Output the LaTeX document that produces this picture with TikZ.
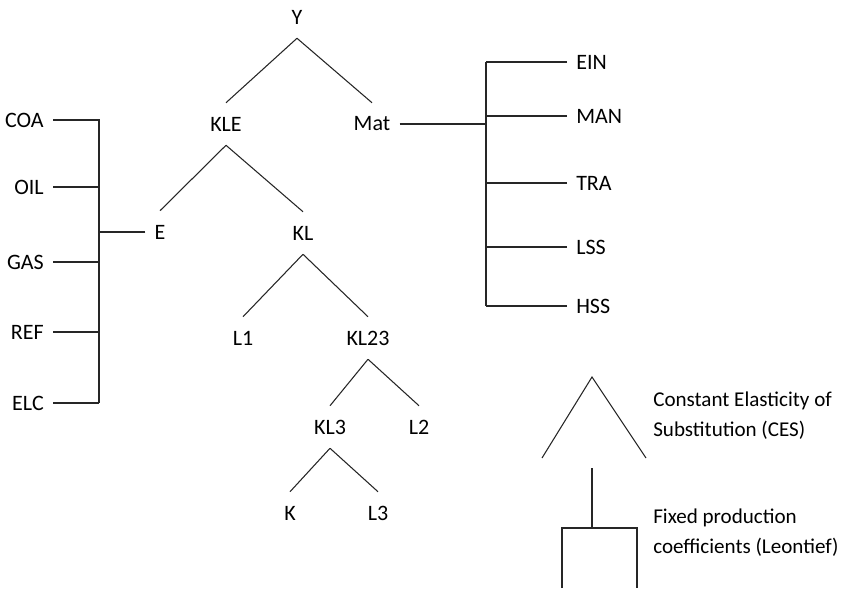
\documentclass[tikz,border=0pt]{standalone}
\usepackage{fontspec}
\setmainfont{Carlito}
\begin{document}
\begin{tikzpicture}[x=0.75pt,y=-0.75pt,
  lbl/.style={font=\fontsize{16.5}{20}\selectfont, inner xsep=6.75pt, inner ysep=0pt},
  tnode/.style={lbl, minimum height=31.5pt},
  legtext/.style={font=\fontsize{15.8}{19}\selectfont, inner sep=0pt, anchor=base west},
  conn/.style={draw=black!85, line width=0.8pt}]
\useasboundingbox (0,0) rectangle (843,590);

% tree nodes
\node[tnode] (Y)    at (297,17)  {Y};
\node[tnode] (KLE)  at (226,124) {KLE};
\node[tnode] (Mat)  at (372,124) {Mat};
\node[tnode] (E)    at (160,232) {E};
\node[tnode] (KL)   at (303,233) {KL};
\node[tnode] (L1)   at (243,338) {L1};
\node[tnode] (KL23) at (368,338) {KL23};
\node[tnode] (KL3)  at (330,427) {KL3};
\node[tnode] (L2)   at (419,427) {L2};
\node[tnode] (K)    at (290,513) {K};
\node[tnode] (L3)   at (378,513) {L3};

\draw[conn] (Y.south) -- (KLE.north);
\draw[conn] (Y.south) -- (Mat.north);
\draw[conn] (KLE.south) -- (E.north);
\draw[conn] (KLE.south) -- (KL.north);
\draw[conn] (KL.south) -- (L1.north);
\draw[conn] (KL.south) -- (KL23.north);
\draw[conn] (KL23.south) -- (KL3.north);
\draw[conn] (KL23.south) -- (L2.north);
\draw[conn] (KL3.south) -- (K.north);
\draw[conn] (KL3.south) -- (L3.north);

% energy bundle (left)
\coordinate (ebusT) at (99,119);
\coordinate (ebusB) at (99,403);
\node[lbl, anchor=east] (COA) at (53,120) {COA};
\node[lbl, anchor=east] (OIL) at (53,187) {OIL};
\node[lbl, anchor=east] (GAS) at (53,262) {GAS};
\node[lbl, anchor=east] (REF) at (53,332) {REF};
\node[lbl, anchor=east] (ELC) at (53,403) {ELC};
\draw[conn] (ebusT) -- (ebusB);
\foreach \n in {COA,OIL,GAS,REF,ELC}{
  \draw[conn] (\n.east) -- (\n.east -| ebusT);
}
\draw[conn] (E.west) -- (E.west -| ebusT);

% materials bundle (right)
\coordinate (mbusT) at (486,62);
\coordinate (mbusB) at (486,306);
\node[lbl, anchor=west] (EIN) at (567,62)  {EIN};
\node[lbl, anchor=west] (MAN) at (567,116) {MAN};
\node[lbl, anchor=west] (TRA) at (567,183) {TRA};
\node[lbl, anchor=west] (LSS) at (567,247) {LSS};
\node[lbl, anchor=west] (HSS) at (567,306) {HSS};
\draw[conn] (mbusT) -- (mbusB);
\foreach \n in {EIN,MAN,TRA,LSS,HSS}{
  \draw[conn] (\n.west) -- (\n.west -| mbusT);
}
\draw[conn] (Mat.east) -- (Mat.east -| mbusT);

% legend: CES
\coordinate (cesTop) at (592,377);
\coordinate (cesL) at (542,458);
\coordinate (cesR) at (646,458);
\draw[conn] (cesL) -- (cesTop) -- (cesR);
\node[legtext] (ces1) at (653,406) {Constant Elasticity of};
\node[legtext] (ces2) at (653,436) {Substitution (CES)};

% legend: Leontief
\coordinate (leoTop) at (592,468);
\coordinate (leoMid) at (592,528);
\coordinate (leoL) at (562,528);
\coordinate (leoR) at (637,528);
\coordinate (leoLB) at (562,588);
\coordinate (leoRB) at (637,588);
\draw[conn] (leoTop) -- (leoMid);
\draw[conn] (leoLB) -- (leoL) -- (leoR) -- (leoRB);
\node[legtext] (leo1) at (653,523) {Fixed production};
\node[legtext] (leo2) at (653,553) {coefficients (Leontief)};
\end{tikzpicture}
\end{document}
